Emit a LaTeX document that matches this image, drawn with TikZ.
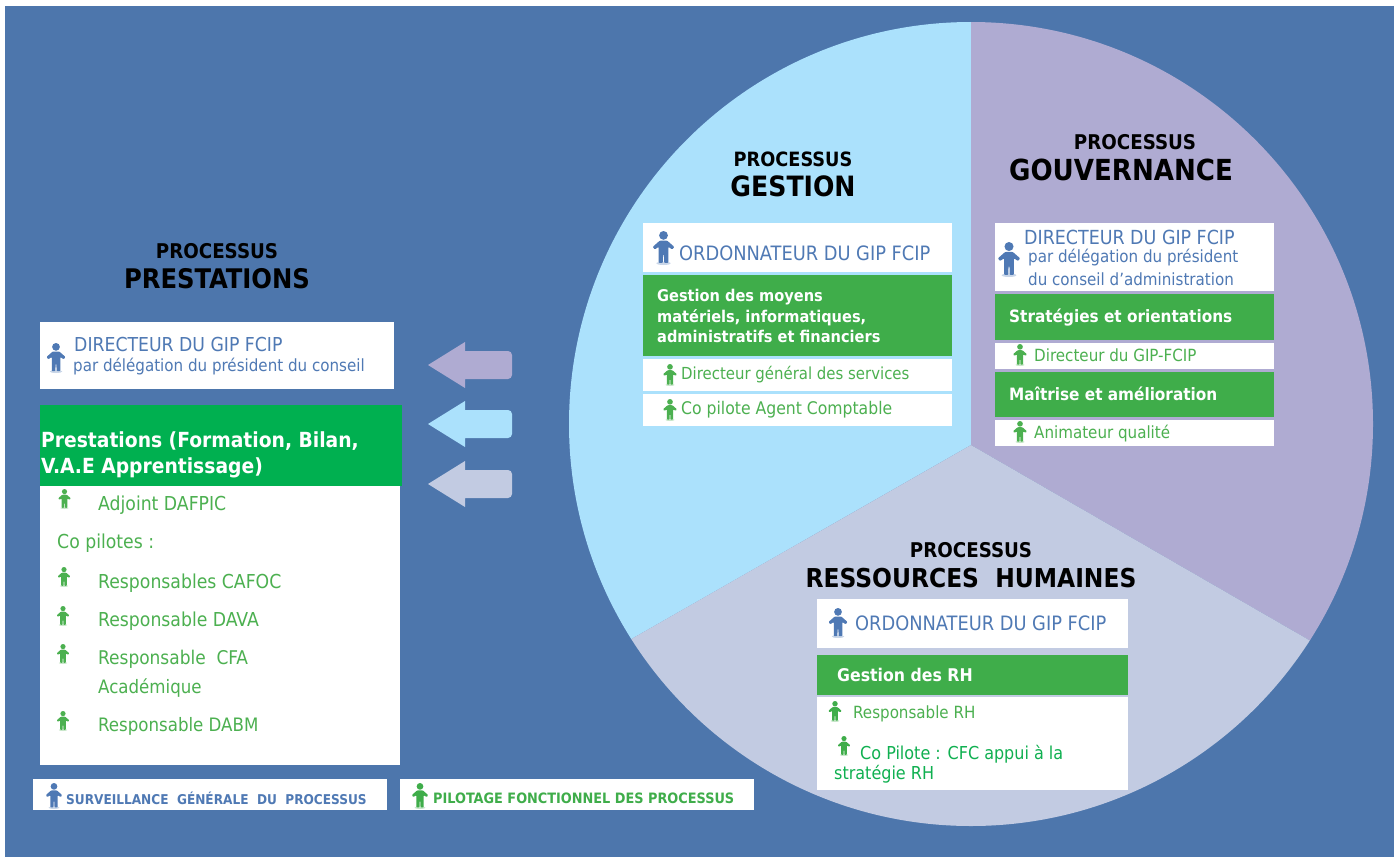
\documentclass[tikz,border=0pt]{standalone}
\usepackage{fontspec}
\setmainfont{DejaVu Sans Condensed}
\definecolor{bgblue}{HTML}{4D76AC}
\definecolor{pieblue}{HTML}{ABE1FC}
\definecolor{piepurple}{HTML}{AFABD2}
\definecolor{piegrey}{HTML}{C2CBE2}
\definecolor{gr}{HTML}{3FAD4A}
\definecolor{grbright}{HTML}{00B050}
\definecolor{txtblue}{HTML}{4F79B4}
\definecolor{txtgreen}{HTML}{4CB050}
\newcommand\person[4]{% x, y (top), height, colour
  \begin{scope}[shift={(#1,#2)},x=#3pt/24,y=-#3pt/24]
    \fill[#4,opacity=.3] (0,22.8) ellipse (5 and 1.2);
    \fill[#4] (0,3.1) circle (3.1);
    \fill[#4,rounded corners=0.8] (-2.6,6.8) -- (2.6,6.8) -- (7.6,11.2) -- (6.2,13) -- (3.4,11.2) -- (3.4,15.5) -- (3.4,22.5) -- (0.5,22.5) -- (0.3,16.5) -- (-0.3,16.5) -- (-0.5,22.5) -- (-3.4,22.5) -- (-3.4,15.5) -- (-3.4,11.2) -- (-6.2,13) -- (-7.6,11.2) -- cycle;
  \end{scope}}
\tikzset{
  x=1pt,y=-1pt,
  wbox/.style={fill=white,draw=none,anchor=north west,inner sep=0,outer sep=0},
  gbox/.style={fill=gr,draw=none,anchor=north west,inner sep=0,outer sep=0},
  titlesm/.style={text=black,font=\bfseries\fontsize{20.3}{20.3}\selectfont,inner sep=0},
  bigtitle/.style={text=black,font=\bfseries\fontsize{27}{27}\selectfont,inner sep=0},
  bluetxt/.style={text=txtblue,anchor=west,inner sep=0,font=\fontsize{19.2}{19.2}\selectfont},
  bluesm/.style={text=txtblue,anchor=west,inner sep=0,font=\fontsize{16.8}{16.8}\selectfont},
  grnlist/.style={text=txtgreen,anchor=west,inner sep=0,font=\fontsize{19.2}{19.2}\selectfont},
  grn/.style={text=txtgreen,anchor=west,inner sep=0,font=\fontsize{16.8}{16.8}\selectfont},
  whitetxt/.style={text=white,anchor=west,inner sep=0,font=\bfseries\fontsize{17}{17}\selectfont}
}
\newcommand\wb[5]{\node[wbox,minimum width=#4pt,minimum height=#5pt] (#1) at (#2,#3) {};}
\newcommand\gb[5]{\node[gbox,minimum width=#4pt,minimum height=#5pt] (#1) at (#2,#3) {};}
\newcommand\leftarrowshape[2]{%
  \fill[#2] (428,#1) -- (465,#1-23) -- (465,#1-14) [rounded corners=4pt] -- (512,#1-14) -- (512,#1+14) [sharp corners] -- (465,#1+14) -- (465,#1+23) -- cycle;}
\begin{document}
\begin{tikzpicture}
\useasboundingbox (0,0) rectangle (1394,857);
\fill[white] (0,0) rectangle (1394,857);
\fill[bgblue] (5,6) rectangle (1394,857);
% pie
\begin{scope}
  \clip (971,424) circle (402);
  \fill[pieblue] (971,445) -- (971,0) -- (500,0) -- (500,714) -- cycle;
  \fill[piepurple] (971,445) -- (971,0) -- (1420,0) -- (1420,704) -- cycle;
  \fill[piegrey] (971,445) -- (500,714) -- (500,860) -- (1420,860) -- (1420,704) -- cycle;
\end{scope}
% arrows
\leftarrowshape{365}{piepurple}
\leftarrowshape{424}{pieblue}
\leftarrowshape{484}{piegrey}
% PRESTATIONS
\node[titlesm] (t1) at (217,251) {PROCESSUS};
\node[bigtitle] (t1b) at (217,279) {PRESTATIONS};
\wb{a}{40}{322}{354}{67}
\person{56}{343}{30}{txtblue}
\node[bluetxt] (at1) at (74,345) {DIRECTEUR DU GIP FCIP};
\node[bluesm] (at2) at (73,367) {par délégation du président du conseil};
\node[gbox,fill=grbright,minimum width=362pt,minimum height=81pt] (b) at (40,405) {};
\node[whitetxt,font=\bfseries\fontsize{20.8}{26}\selectfont,align=left] (bt) at (41,455) {Prestations (Formation, Bilan,\\V.A.E Apprentissage)};
\wb{c}{40}{486}{360}{279}
\person{64.5}{489}{20}{txtgreen}
\node[grnlist] (c1) at (98,505) {Adjoint DAFPIC};
\node[grnlist] (c2) at (57,543) {Co pilotes :};
\person{64}{567}{20}{txtgreen}
\node[grnlist] (c3) at (98,583) {Responsables CAFOC};
\person{63}{606}{20}{txtgreen}
\node[grnlist] (c4) at (98,621) {Responsable DAVA};
\person{63}{644}{20}{txtgreen}
\node[grnlist,font=\fontsize{18.9}{18.9}\selectfont] (c5) at (98,659) {Responsable\ \ CFA};
\node[grnlist,font=\fontsize{18.5}{18.5}\selectfont] (c6) at (98,688) {Académique};
\person{63}{711}{20}{txtgreen}
\node[grnlist,font=\fontsize{18.5}{18.5}\selectfont] (c7) at (98,726) {Responsable DABM};
% legend
\wb{l1}{33}{779}{354}{31}
\person{54}{783}{26}{txtblue}
\node[text=txtblue,anchor=west,inner sep=0,font=\bfseries\fontsize{13.5}{13.5}\selectfont] (l1t) at (66,798) {SURVEILLANCE\ \ GÉNÉRALE\ \ DU\ \ PROCESSUS};
\wb{l2}{400}{779}{354}{31}
\person{420}{783}{26}{gr}
\node[text=gr,anchor=west,inner sep=0,font=\bfseries\fontsize{14.3}{14.3}\selectfont] (l2t) at (433,798) {PILOTAGE FONCTIONNEL DES PROCESSUS};
% GESTION
\node[titlesm,font=\bfseries\fontsize{19.7}{19.7}\selectfont] (t2) at (793,159) {PROCESSUS};
\node[bigtitle,font=\bfseries\fontsize{28}{28}\selectfont] (t2b) at (793,186) {GESTION};
\wb{d}{643}{223}{309}{49}
\person{663.5}{231}{34}{txtblue}
\node[bluetxt,font=\fontsize{19.8}{19.8}\selectfont] (dt) at (679,253) {ORDONNATEUR DU GIP FCIP};
\gb{e}{643}{275}{309}{81}
\node[whitetxt,align=left,font=\bfseries\fontsize{16.2}{20.5}\selectfont] (et) at (657,316) {Gestion des moyens\\matériels, informatiques,\\administratifs et financiers};
\wb{f}{643}{359}{309}{32}
\person{670}{364}{22}{txtgreen}
\node[grn,font=\fontsize{16.6}{16.6}\selectfont] (ft) at (681,375) {Directeur général des services};
\wb{g}{643}{394}{309}{32}
\person{670}{399}{22}{txtgreen}
\node[grn,font=\fontsize{17.4}{17.4}\selectfont] (gt) at (681,410) {Co pilote Agent Comptable};
% GOUVERNANCE
\node[titlesm] (t3) at (1135,142) {PROCESSUS};
\node[bigtitle,font=\bfseries\fontsize{29}{29}\selectfont] (t3b) at (1121,170) {GOUVERNANCE};
\wb{h}{995}{223}{279}{68}
\person{1009}{242}{35}{txtblue}
\node[bluetxt,font=\fontsize{19.4}{19.4}\selectfont] (h1) at (1024,237) {DIRECTEUR DU GIP FCIP};
\node[bluesm] (h2) at (1028,258) {par délégation du président};
\node[bluesm] (h3) at (1028,279) {du conseil d’administration};
\gb{i}{995}{294}{279}{46}
\node[whitetxt] (it) at (1009,318) {Stratégies et orientations};
\wb{j}{995}{343}{279}{26}
\person{1020}{344}{22}{txtgreen}
\node[grn] (jt) at (1034,355) {Directeur du GIP-FCIP};
\gb{k}{995}{372}{279}{45}
\node[whitetxt] (kt) at (1009,394) {Maîtrise et amélioration};
\wb{m}{995}{420}{279}{26}
\person{1020}{421}{22}{txtgreen}
\node[grn] (mt) at (1034,434) {Animateur qualité};
% RH
\node[titlesm] (t4) at (971,550) {PROCESSUS};
\node[bigtitle,font=\bfseries\fontsize{26}{26}\selectfont] (t4b) at (971,578) {RESSOURCES\ \ HUMAINES};
\wb{n}{817}{599}{311}{49}
\person{838}{608}{30}{txtblue}
\node[bluetxt,font=\fontsize{19.8}{19.8}\selectfont] (nt) at (855,623) {ORDONNATEUR DU GIP FCIP};
\gb{o}{817}{655}{311}{40}
\node[whitetxt,font=\bfseries\fontsize{17.5}{17.5}\selectfont] (ot) at (837,675) {Gestion des RH};
\wb{p}{817}{697}{311}{93}
\person{835}{701}{21}{gr}
\node[grn] (pt) at (853,714) {Responsable RH};
\person{844}{736}{20}{gr}
\node[grn,text=grbright!80!txtgreen,font=\fontsize{17.8}{17.8}\selectfont] (q1) at (860,754) {Co Pilote : CFC appui à la};
\node[grn,text=grbright!80!txtgreen,font=\fontsize{17.8}{17.8}\selectfont] (q2) at (834,774) {stratégie RH};
\end{tikzpicture}
\end{document}
